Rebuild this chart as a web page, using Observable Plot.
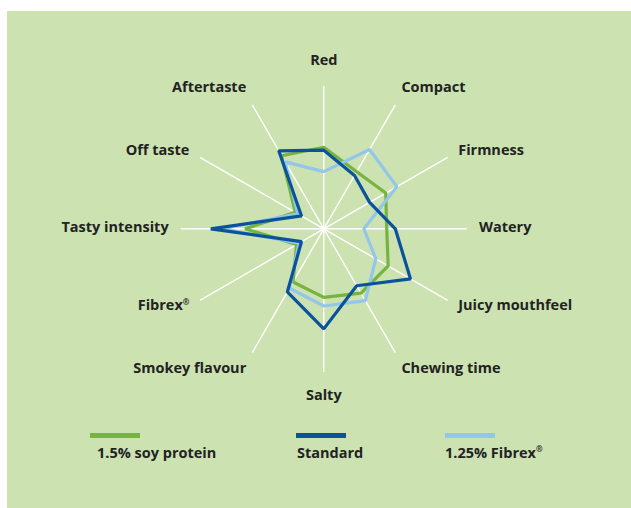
<!DOCTYPE html>
<html>
<head>
<meta charset="utf-8">
<script src="https://cdn.jsdelivr.net/npm/d3@7"></script>
<script src="https://cdn.jsdelivr.net/npm/@observablehq/plot@0.6"></script>
<style>
  html, body { margin: 0; padding: 0; background: #fff; }
  body { width: 631px; height: 508px; position: relative; overflow: hidden; font-family: "Open Sans", Lato, sans-serif; }
  #panel { position: absolute; left: 7px; top: 11px; width: 624px; height: 497px; background: #cce2b1; }
  #chart { position: absolute; left: 0; top: 0; }
  #legend { position: absolute; left: 0; top: 0; width: 631px; height: 508px; pointer-events: none; }
  .swatch { position: absolute; top: 433px; width: 50px; height: 5px; }
  .ltext { position: absolute; top: 443px; font-size: 14.5px; font-weight: 700; color: #222; white-space: nowrap; line-height: 20px; }
  .ltext sup { font-size: 8px; vertical-align: 6px; line-height: 0; }
</style>
</head>
<body>
<div id="panel"></div>
<div id="chart"></div>
<div id="legend"></div>
<script>
// ---- data ----
const categories = ["Red", "Compact", "Firmness", "Watery", "Juicy mouthfeel", "Chewing time",
  "Salty", "Smokey flavour", "Fibrex®", "Tasty intensity", "Off taste", "Aftertaste"];
const seriesNames = ["1.5% soy protein", "Standard", "1.25% Fibrex®"];
const soyProtein = [5.7, 4.6, 5.0, 4.4, 5.2, 5.2, 4.8, 4.3, 2.2, 5.5, 2.3, 5.9];
const standard   = [5.5, 4.3, 3.7, 5.0, 7.0, 4.6, 7.0, 5.1, 1.8, 7.9, 1.8, 6.3];
const fibrex     = [4.0, 6.4, 5.9, 2.8, 4.2, 5.8, 5.4, 4.8, 2.0, 7.1, 2.1, 5.4];
const axisMax = 10;

// ---- layout ----
const W = 631, H = 410;
const cx = 323.3, cy = 228.3, unit = 14.3;   // px per value unit
const colors = ["#76b43f", "#0a539c", "#93c6ea"];
const seriesValues = [soyProtein, standard, fibrex];
const n = categories.length;
const ang = i => i * 2 * Math.PI / n;

const points = [];
seriesValues.forEach((vals, s) => vals.forEach((v, i) =>
  points.push({series: seriesNames[s], cat: categories[i], a: ang(i), v})));
const spokes = categories.map((c, i) => ({cat: c, a: ang(i)}));
const anchorOf = a => { const s = Math.sin(a); return Math.abs(s) < 0.1 ? "middle" : s > 0 ? "start" : "end"; };
const labels = categories.map((c, i) => {
  const a = ang(i);
  const s = Math.sin(a), co = Math.cos(a);
  const r = Math.abs(s) < 0.1 ? 11.7 : 10.85;
  const yOff = (Math.abs(co) > 0.8 && Math.abs(s) > 0.1) ? -Math.sign(co) * 0.45 : 0;
  return {cat: c, a, r, yOff, anchor: anchorOf(a)};
});

// draw order: green, light blue, dark blue on top
const order = ["1.5% soy protein", "1.25% Fibrex®", "Standard"];

const plot = Plot.plot({
  width: W, height: H,
  margin: 0,
  x: {domain: [-cx / unit, (W - cx) / unit], range: [0, W], axis: null},
  y: {domain: [-cy / unit, (H - cy) / unit], range: [0, H], axis: null},
  color: {domain: seriesNames, range: colors},
  style: {background: "transparent", overflow: "visible"},
  marks: [
    Plot.link(spokes, {
      x1: 0, y1: 0,
      x2: d => axisMax * Math.sin(d.a), y2: d => -axisMax * Math.cos(d.a),
      stroke: "#ffffff", strokeWidth: 1.4
    }),
    ...order.map(name => Plot.line(points.filter(d => d.series === name), {
      x: d => d.v * Math.sin(d.a), y: d => -d.v * Math.cos(d.a),
      stroke: "series", strokeWidth: 3.2, curve: "linear-closed", strokeLinejoin: "miter"
    })),
    ...["start", "middle", "end"].map(anc => Plot.text(labels.filter(d => d.anchor === anc), {
      x: d => d.r * Math.sin(d.a), y: d => -d.r * Math.cos(d.a) + d.yOff,
      text: "cat", textAnchor: anc, lineAnchor: "middle", dy: -1,
      fontSize: 14.5, fontWeight: 700, fill: "#222",
      fontFamily: "'Open Sans', Lato, sans-serif"
    }))
  ]
});
// superscript the registered sign in labels
plot.querySelectorAll("text").forEach(t => {
  if (t.textContent.includes("®")) {
    const base = t.textContent.replace("®", "");
    t.textContent = base;
    const sup = document.createElementNS("http://www.w3.org/2000/svg", "tspan");
    sup.setAttribute("font-size", "8");
    sup.setAttribute("dy", "-5");
    sup.textContent = "®";
    t.appendChild(sup);
  }
});
document.getElementById("chart").appendChild(plot);

// ---- legend (HTML, below the plot) ----
const legend = document.getElementById("legend");
const swatchLeft = [90, 296, 445];
const textLeft = [97, 297, 445];
seriesNames.forEach((name, i) => {
  const sw = document.createElement("div");
  sw.className = "swatch";
  sw.style.left = swatchLeft[i] + "px";
  sw.style.background = colors[i];
  legend.appendChild(sw);
  const t = document.createElement("div");
  t.className = "ltext";
  t.style.left = textLeft[i] + "px";
  t.innerHTML = name.replace("®", "<sup>®</sup>");
  legend.appendChild(t);
});
</script>
</body>
</html>
